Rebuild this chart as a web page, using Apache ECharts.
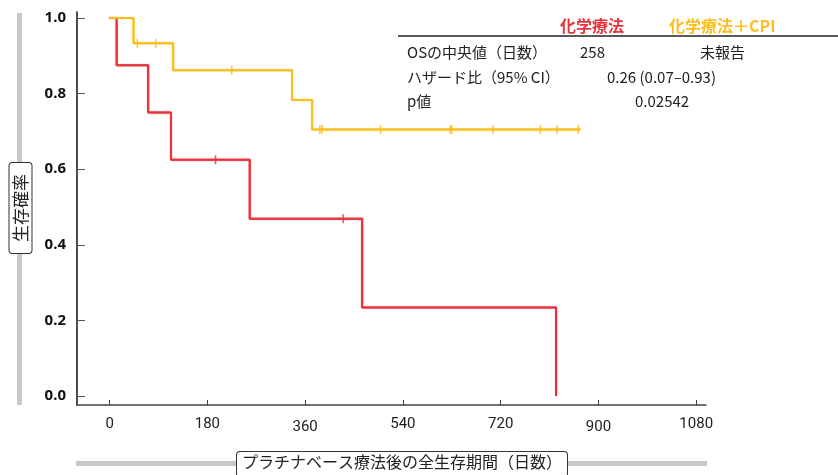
<!DOCTYPE html>
<html>
<head>
<meta charset="utf-8">
<script src="https://cdn.jsdelivr.net/npm/echarts@6/dist/echarts.min.js"></script>
<style>
  html, body { margin: 0; padding: 0; background: #fff; }
  #chart { width: 838px; height: 475px; }
</style>
</head>
<body>
<div id="chart"></div>
<script>
// Kaplan–Meier overall survival after platinum-based therapy (days)
const groupNames = ['化学療法', '化学療法＋CPI'];
const groupColors = ['#e8323c', '#fcbd1e'];

// step points [day, survival probability]
const chemoSteps = [[0, 1], [13, 0.875], [71, 0.75], [113, 0.625], [258, 0.469], [465, 0.234], [822, 0]];
const chemoCensored = [[195, 0.625], [430, 0.469]];

const cpiSteps = [[0, 1], [44, 0.933], [117, 0.862], [336, 0.783], [373, 0.705], [867, 0.705]];
const cpiCensored = [[51, 0.933], [85, 0.933], [225, 0.862], [387, 0.705], [391, 0.705], [499, 0.705],
  [627, 0.705], [630, 0.705], [706, 0.705], [793, 0.705], [824, 0.705], [863, 0.705]];

const xTicks = [0, 180, 360, 540, 720, 900, 1080];
const xLowered = [360, 900];
const yTicks = [0, 0.2, 0.4, 0.6, 0.8, 1.0];

const xAxisTitle = 'プラチナベース療法後の全生存期間（日数）';
const yAxisTitle = '生存確率';

// summary table rows: label, then [text, left x] cells
const tableRows = [
  { label: 'OSの中央値（日数）', cells: [['258', 580], ['未報告', 700]] },
  { label: 'ハザード比（95% CI）', cells: [['0.26 (0.07–0.93)', 607]] },
  { label: 'p値', cells: [['0.02542', 635]] }
];

const jpFont = '"Noto Sans CJK JP", "Noto Sans", sans-serif';

const chart = echarts.init(document.getElementById('chart'), null, { renderer: 'canvas' });

function stepSeries(name, data, color) {
  return {
    name: name, type: 'line', step: 'end', data: data,
    showSymbol: false, symbol: 'none',
    lineStyle: { color: color, width: 2, shadowColor: color, shadowBlur: 1 },
    itemStyle: { color: color },
    z: 3, animation: false
  };
}
function censorSeries(name, data, color) {
  return {
    name: name, type: 'scatter', data: data,
    symbol: 'rect', symbolSize: [1.6, 9],
    itemStyle: { color: color },
    z: 4, animation: false
  };
}

const tableGraphics = [];
tableGraphics.push({
  type: 'text', x: 560, y: 26,
  style: { text: groupNames[0], fill: groupColors[0], font: 'bold 16px ' + jpFont, verticalAlign: 'middle' }
});
tableGraphics.push({
  type: 'text', x: 669, y: 26,
  style: { text: groupNames[1], fill: groupColors[1], font: 'bold 16px ' + jpFont, verticalAlign: 'middle' }
});
tableGraphics.push({
  type: 'line', shape: { x1: 398, y1: 36, x2: 838, y2: 36 },
  style: { stroke: '#222', lineWidth: 1.5 }
});
const rowY = [52, 77, 101];
tableRows.forEach(function (row, i) {
  tableGraphics.push({
    type: 'text', x: 407, y: rowY[i],
    style: { text: row.label, fill: '#222', font: '15px ' + jpFont, verticalAlign: 'middle' }
  });
  row.cells.forEach(function (c) {
    tableGraphics.push({
      type: 'text', x: c[1], y: rowY[i],
      style: { text: c[0], fill: '#222', font: '15px ' + jpFont, verticalAlign: 'middle' }
    });
  });
});

const option = {
  backgroundColor: '#fff',
  animation: false,
  grid: { left: 77, right: 132, top: 12, bottom: 70 },
  xAxis: {
    type: 'value', min: -60, max: 1098,
    axisLine: { show: true, onZero: false, lineStyle: { color: '#444', width: 1.5 } },
    axisTick: { show: true, inside: true, length: 5, customValues: xTicks, lineStyle: { color: '#444', width: 1 } },
    axisLabel: {
      customValues: xTicks, margin: 12, color: '#222', fontSize: 15, fontFamily: 'Roboto',
      formatter: function (v) { return xLowered.indexOf(v) >= 0 ? '{lo|' + v + '}' : '{n|' + v + '}'; },
      rich: {
        n: { fontSize: 15, fontFamily: 'Roboto', color: '#222' },
        lo: { fontSize: 15, fontFamily: 'Roboto', color: '#222', padding: [3, 0, 0, 0] }
      }
    },
    splitLine: { show: false }
  },
  yAxis: {
    type: 'value', min: -0.024, max: 1.016,
    axisLine: { show: true, onZero: false, lineStyle: { color: '#111', width: 1.5 } },
    axisTick: { show: true, inside: true, length: 8, customValues: yTicks, lineStyle: { color: '#555', width: 1 } },
    axisLabel: {
      customValues: yTicks, margin: 11, color: '#111', fontSize: 15, fontWeight: 'bold', fontFamily: '"Noto Sans"',
      formatter: function (v) { return v.toFixed(1); }
    },
    splitLine: { show: false }
  },
  series: [
    stepSeries(groupNames[0], chemoSteps, groupColors[0]),
    stepSeries(groupNames[1], cpiSteps, groupColors[1]),
    censorSeries(groupNames[0] + ' 打ち切り', chemoCensored, groupColors[0]),
    censorSeries(groupNames[1] + ' 打ち切り', cpiCensored, groupColors[1])
  ],
  graphic: [
    // grey guide bars along the axes
    { type: 'rect', shape: { x: 17, y: 13, width: 5, height: 392 }, style: { fill: '#c8c8c8' }, z: 0 },
    { type: 'rect', shape: { x: 76, y: 461, width: 631, height: 5 }, style: { fill: '#c8c8c8' }, z: 0 },
    // boxed axis titles
    {
      type: 'text', x: 20.5, y: 208, rotation: Math.PI / 2, z: 10,
      style: {
        text: yAxisTitle, font: '17px ' + jpFont, fill: '#222', align: 'center', verticalAlign: 'middle',
        backgroundColor: '#fff', borderColor: '#333', borderWidth: 1, borderRadius: 3, padding: [3, 11, 2, 11]
      }
    },
    {
      type: 'text', x: 402, y: 452, z: 10,
      style: {
        text: xAxisTitle, font: '16px ' + jpFont, fill: '#222', align: 'center', verticalAlign: 'top',
        backgroundColor: '#fff', borderColor: '#333', borderWidth: 1, borderRadius: 3, padding: [2, 5, 6, 5]
      }
    }
  ].concat(tableGraphics)
};

chart.setOption(option);
</script>
</body>
</html>
